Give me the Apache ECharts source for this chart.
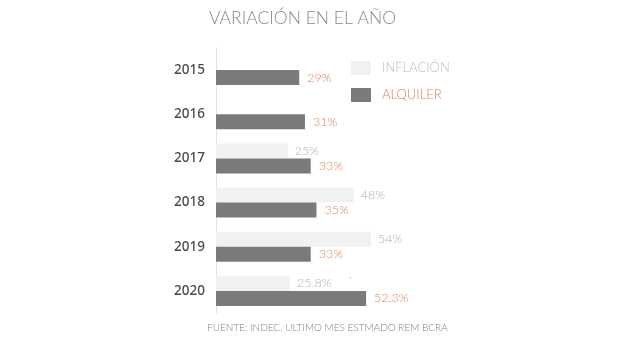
<!DOCTYPE html>
<html>
<head>
<meta charset="utf-8">
<script src="https://cdn.jsdelivr.net/npm/echarts@6/dist/echarts.min.js"></script>
<style>html,body{margin:0;padding:0;background:#fff;}#c{width:640px;height:338px;}</style>
</head>
<body>
<div id="c"></div>
<script>
var categories = ['2015', '2016', '2017', '2018', '2019', '2020'];
var inflacion = [null, null, 25, 48, 54, 25.8];
var alquiler = [29, 31, 33, 35, 33, 52.3];
var inflacionLabels = ['', '', '25%', '48%', '54%', '25.8%'];
var alquilerLabels = ['29%', '31%', '33%', '35%', '33%', '52.3%'];
var noteMark = [false, false, false, false, false, true];

var FONT = 'Lato';
var chart = echarts.init(document.getElementById('c'));
chart.setOption({
  backgroundColor: '#ffffff',
  animation: false,
  title: {
    text: 'VARIACIÓN EN EL AÑO',
    left: 204, top: 4,
    textStyle: { color: '#8a8a8a', fontSize: 17.5, fontWeight: 300, fontFamily: FONT }
  },
  graphic: [{
    type: 'text', left: 207, top: 323,
    style: { text: 'FUENTE: INDEC. ULTIMO MES ESTMADO REM BCRA', fill: '#808080', fontSize: 10, fontWeight: 300, fontFamily: FONT }
  }],
  legend: {
    orient: 'vertical', left: 351, top: 61, padding: 0, itemWidth: 20, itemHeight: 14, itemGap: 13,
    icon: 'rect',
    data: [
      { name: 'INFLACIÓN', textStyle: { color: '#bdbdbd' } },
      { name: 'ALQUILER', textStyle: { color: '#d9825a' } }
    ],
    textStyle: { fontSize: 13, fontWeight: 300, fontFamily: FONT, padding: [0, 0, 0, 6] }
  },
  grid: { left: 216, right: 137, top: 48, bottom: 25 },
  xAxis: { type: 'value', min: 0, max: 100, show: false },
  yAxis: {
    type: 'category', data: categories, inverse: true,
    axisLine: { lineStyle: { color: '#e3e3e3' } },
    axisTick: { length: 4, lineStyle: { color: '#dcdcdc' } },
    axisLabel: { color: '#4a4a4a', fontSize: 13.5, fontFamily: 'Noto Sans', fontWeight: 500, margin: 11 }
  },
  series: [
    {
      name: 'INFLACIÓN', type: 'bar', data: inflacion, barWidth: 15, barGap: '0%',
      itemStyle: { color: '#f1f1f1' },
      label: {
        show: true, position: 'right', distance: 7, color: '#b0b0b0', fontSize: 12.5, fontWeight: 300, fontFamily: FONT,
        formatter: function (p) { return noteMark[p.dataIndex] ? inflacionLabels[p.dataIndex] + '     {s|*}' : inflacionLabels[p.dataIndex]; },
        rich: { s: { fontSize: 8, color: '#999', verticalAlign: 'top', padding: [0, 0, 6, 0] } }
      }
    },
    {
      name: 'ALQUILER', type: 'bar', data: alquiler, barWidth: 15,
      itemStyle: { color: '#7a7a7a' },
      label: {
        show: true, position: 'right', distance: 8, color: '#d9825a', fontSize: 12.5, fontWeight: 300, fontFamily: FONT,
        formatter: function (p) { return alquilerLabels[p.dataIndex]; }
      }
    }
  ]
});
</script>
</body>
</html>
